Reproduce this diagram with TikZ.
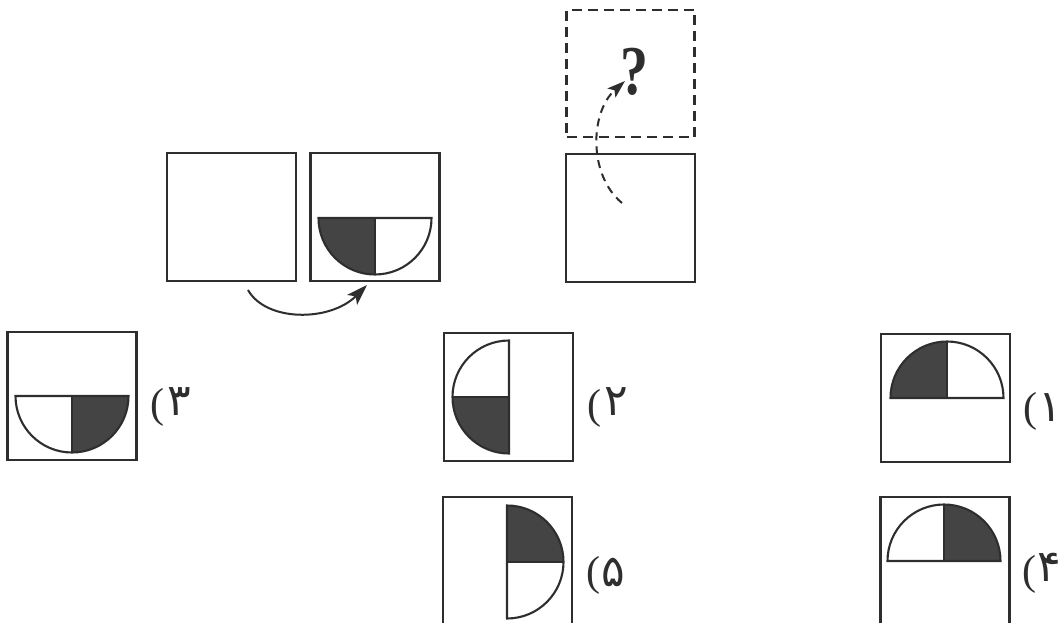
\documentclass[tikz,border=0pt]{standalone}
\usepackage{fontspec}
\newfontfamily\parenfont{Liberation Serif}
\newfontfamily\qfont{Liberation Serif}
\newfontfamily\digitfont{DejaVu Sans}
\usetikzlibrary{arrows.meta}
\definecolor{ink}{HTML}{2E2E2E}
\definecolor{darkfill}{HTML}{444444}
\newcommand\halfdisk[6]{% cx cy a1 a2 f1 f2
  \fill[darkfill] (#1,#2) -- ++(#5:56.5) arc[start angle=#5,end angle=#6,radius=56.5] -- cycle;
  \draw[disk] (#1,#2) ++(#3:56.5) arc[start angle=#3,end angle=#4,radius=56.5] -- cycle;
  \draw[disk] (#1,#2) -- ++({(#3+#4)/2}:56.5);
}
\newcommand\dg[1]{\makebox[12pt]{#1}}
\tikzset{
  panel/.style={draw=ink,line width=2.4pt,minimum width=129pt,minimum height=128pt,inner sep=0pt,fill=white},
  ghost/.style={draw=ink,line width=2.2pt,dash pattern=on 10pt off 6pt,minimum width=128pt,minimum height=127pt,inner sep=0pt},
  disk/.style={draw=ink,line width=2.1pt},
  paren/.style={inner sep=0pt,text=ink,font=\parenfont\fontsize{42}{42}\selectfont},
  digit/.style={inner sep=0pt,text=ink,font=\digitfont\fontsize{44}{44}\selectfont},
  turn/.style={draw=ink,line width=2pt,-{Stealth[length=21pt,width=14pt,inset=5pt]}},
}
\begin{document}
\begin{tikzpicture}[x=1pt,y=-1pt]
\useasboundingbox (0,0) rectangle (1061,623);
\clip (0,0) rectangle (1061,623);
\fill[white] (0,0) rectangle (1061,623);
% top row
\node[panel] (b1) at (231.5,217) {};
\node[panel] (b2) at (375,217) {};
\node[panel] (b3) at (630.5,218) {};
\node[ghost] (q) at (630.5,73.5) {};
\node[inner sep=0pt,text=ink,font=\qfont\bfseries\fontsize{70}{70}\selectfont,xscale=0.8,transform shape] (qm) at (634,72) {?};
\halfdisk{375}{218}{0}{180}{90}{180}
% curved arrow
\coordinate (a1s) at (248,290);
\coordinate (a1e) at (367,285);
\draw[turn] (a1s) .. controls (266,322) and (330,322) .. (a1e);
% dashed arrow
\coordinate (a2s) at (622,203);
\coordinate (a2e) at (625,81);
\draw[turn,dash pattern=on 8pt off 6pt,-{Stealth[length=18pt,width=12pt,inset=4pt]}] (a2s) .. controls (588,175) and (590,112) .. (a2e);
% options
\node[panel] (o3) at (72,396) {};
\node[panel] (o2) at (508.5,397) {};
\node[panel] (o1) at (945.5,398) {};
\node[panel] (o5) at (507.5,561) {};
\node[panel] (o4) at (945,561) {};
\halfdisk{72}{396}{0}{180}{0}{90}
\halfdisk{509}{397}{90}{270}{90}{180}
\halfdisk{947}{398}{180}{360}{180}{270}
\halfdisk{507}{562}{-90}{90}{-90}{0}
\halfdisk{944}{561}{180}{360}{270}{360}
% labels
\node[paren] (p3) at (157,407) {(};
\node[digit] (d3) at (179,402) {\dg{۳}};
\node[paren] (p2) at (594,408) {(};
\node[digit] (d2) at (616,402) {\dg{۲}};
\node[paren] (p1) at (1030,411) {(};
\node[digit] (d1) at (1050,408) {\dg{۱}};
\node[paren] (p5) at (593,575) {(};
\node[digit] (d5) at (613,572) {\dg{۵}};
\node[paren] (p4) at (1029,574) {(};
\node[digit] (d4) at (1049,567) {\dg{۴}};
\end{tikzpicture}
\end{document}
